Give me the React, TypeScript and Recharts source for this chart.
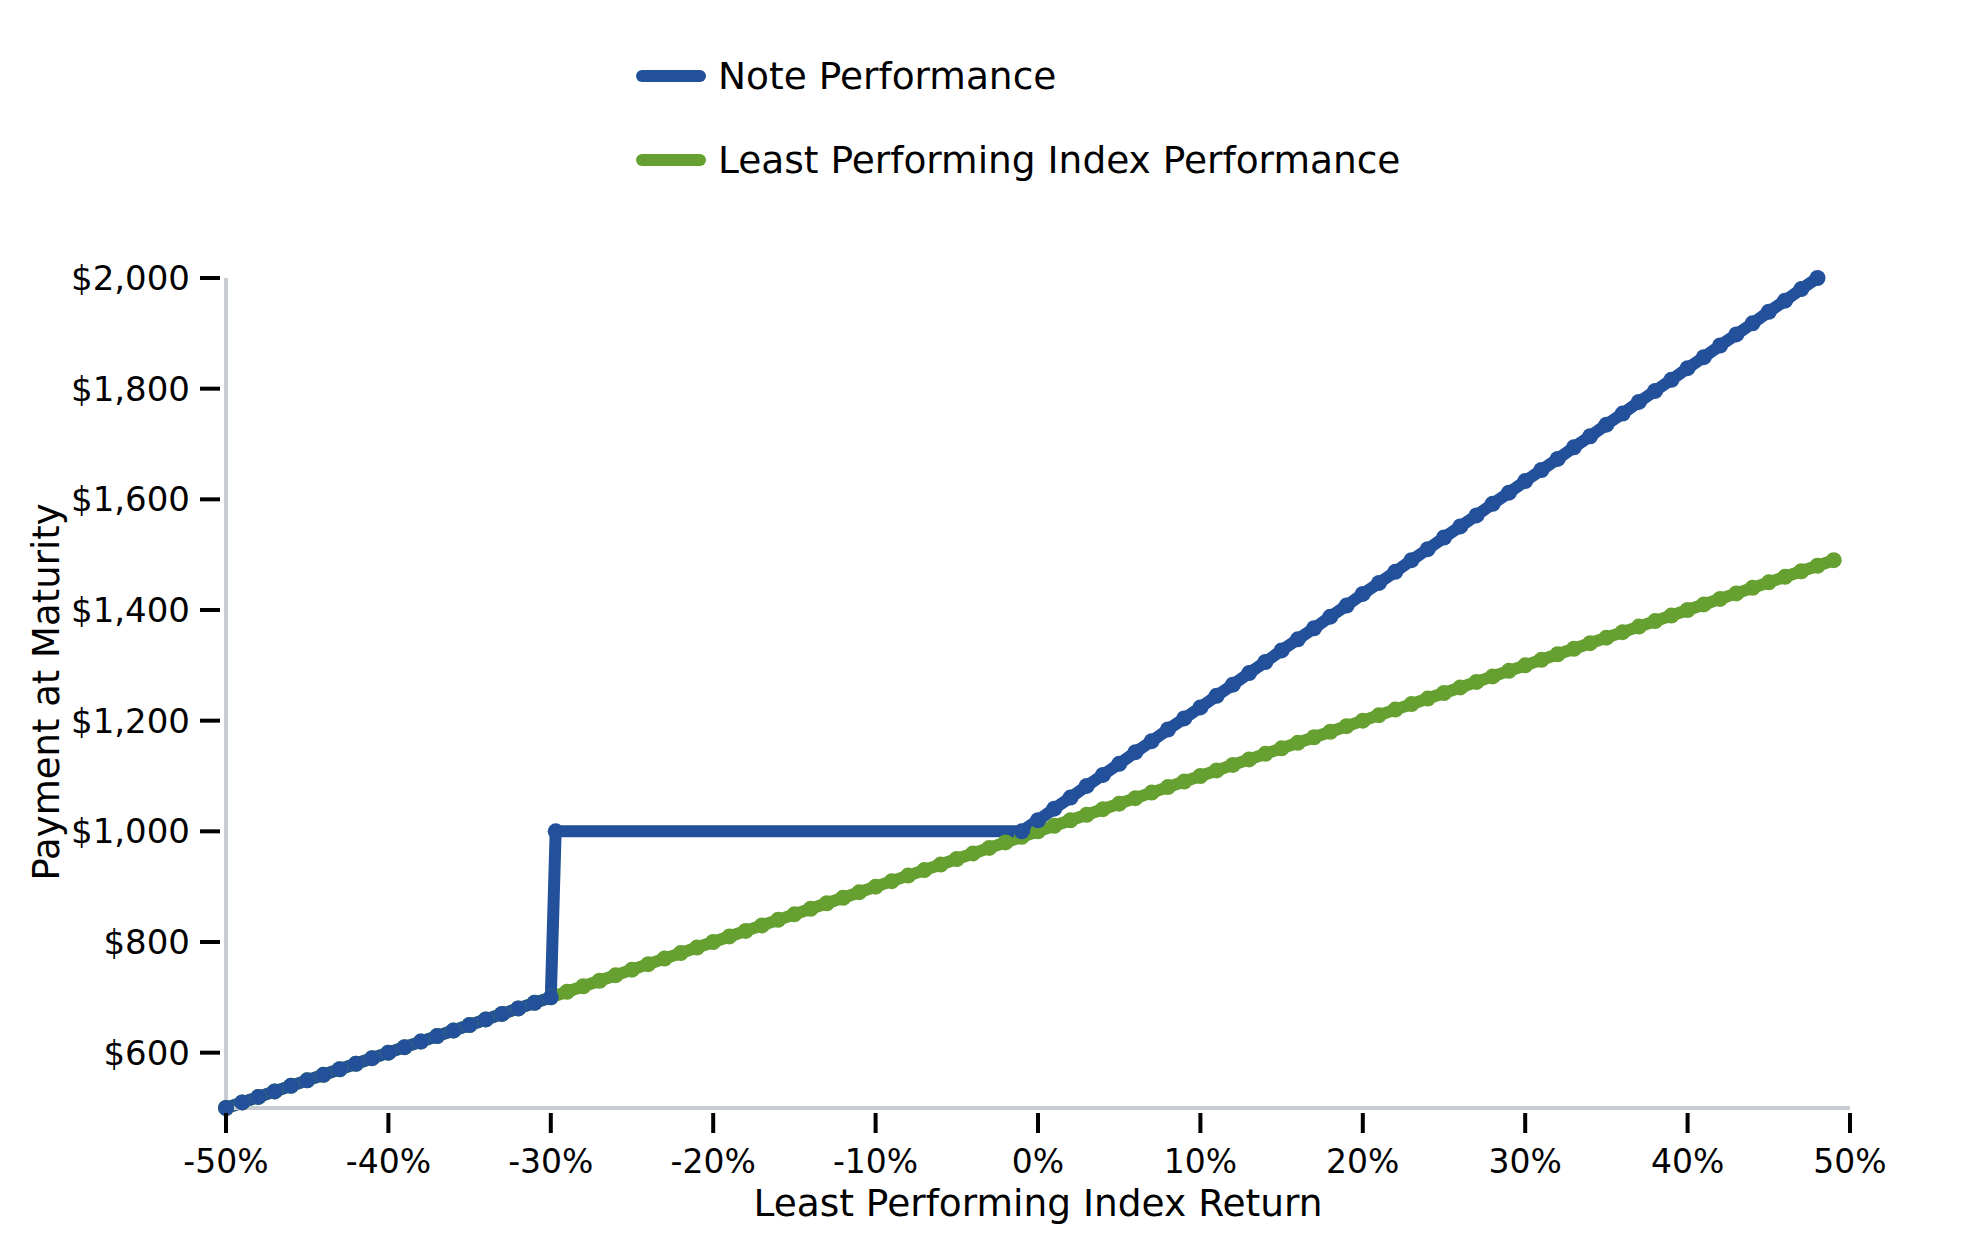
import React from "react";
import { LineChart, Line, XAxis, YAxis } from "recharts";

// Least performing index return (%) and payment at maturity ($)
const indexReturns = [
  -50, -49, -48, -47, -46, -45, -44, -43, -42, -41, -40, -39, -38, -37, -36, -35, -34, -33, -32, -31,
  -30, -29, -28, -27, -26, -25, -24, -23, -22, -21, -20, -19, -18, -17, -16, -15, -14, -13, -12, -11,
  -10, -9, -8, -7, -6, -5, -4, -3, -2, -1, 0, 1, 2, 3, 4, 5, 6, 7, 8, 9,
  10, 11, 12, 13, 14, 15, 16, 17, 18, 19, 20, 21, 22, 23, 24, 25, 26, 27, 28, 29,
  30, 31, 32, 33, 34, 35, 36, 37, 38, 39, 40, 41, 42, 43, 44, 45, 46, 47, 48, 49,
];
const indexPayments = [
  500, 510, 520, 530, 540, 550, 560, 570, 580, 590, 600, 610, 620, 630, 640, 650, 660, 670, 680, 690,
  700, 710, 720, 730, 740, 750, 760, 770, 780, 790, 800, 810, 820, 830, 840, 850, 860, 870, 880, 890,
  900, 910, 920, 930, 940, 950, 960, 970, 980, 990, 1000, 1010, 1020, 1030, 1040, 1050, 1060, 1070, 1080, 1090,
  1100, 1110, 1120, 1130, 1140, 1150, 1160, 1170, 1180, 1190, 1200, 1210, 1220, 1230, 1240, 1250, 1260, 1270, 1280, 1290,
  1300, 1310, 1320, 1330, 1340, 1350, 1360, 1370, 1380, 1390, 1400, 1410, 1420, 1430, 1440, 1450, 1460, 1470, 1480, 1490,
];

const noteReturns = [
  -50, -49, -48, -47, -46, -45, -44, -43, -42, -41, -40, -39, -38, -37, -36, -35, -34, -33, -32, -31,
  -30, -29.7, -1, 0, 1, 2, 3, 4, 5, 6, 7, 8, 9,
  10, 11, 12, 13, 14, 15, 16, 17, 18, 19, 20, 21, 22, 23, 24, 25, 26, 27, 28, 29,
  30, 31, 32, 33, 34, 35, 36, 37, 38, 39, 40, 41, 42, 43, 44, 45, 46, 47, 48,
];
const notePayments = [
  500, 510, 520, 530, 540, 550, 560, 570, 580, 590, 600, 610, 620, 630, 640, 650, 660, 670, 680, 690,
  700, 1000, 1000, 1020, 1041, 1061, 1082, 1102, 1122, 1143, 1163, 1184, 1204,
  1224, 1245, 1265, 1286, 1306, 1327, 1347, 1367, 1388, 1408, 1429, 1449, 1469, 1490, 1510, 1531, 1551, 1571, 1592, 1612,
  1633, 1653, 1673, 1694, 1714, 1735, 1755, 1776, 1796, 1816, 1837, 1857, 1878, 1898, 1918, 1939, 1959, 1980, 2000,
];

const xTicks = [-50, -40, -30, -20, -10, 0, 10, 20, 30, 40, 50];
const yTicks = [600, 800, 1000, 1200, 1400, 1600, 1800, 2000];

const BLUE = "#22509a";
const GREEN = "#65a030";
const AXIS_GRAY = "#c9cdd1";
const FONT = "'DejaVu Sans', sans-serif";

const indexData = indexReturns.map((r, i) => ({ r, v: indexPayments[i] }));
const noteData = noteReturns.map((r, i) => ({ r, v: notePayments[i] }));

const money = (v: number) => "$" + v.toLocaleString("en-US");

function XTick({ x, y, payload }: any) {
  return (
    <g>
      <line x1={x} x2={x} y1={y + 5} y2={y + 25} stroke="#000" strokeWidth={4} />
      <text x={x} y={y + 65} textAnchor="middle" fontSize={33} fontFamily={FONT} fill="#000">
        {payload.value}%
      </text>
    </g>
  );
}

function YTick({ x, y, payload }: any) {
  return (
    <g>
      <line x1={x - 6} x2={x - 26} y1={y} y2={y} stroke="#000" strokeWidth={4} />
      <text x={x - 36} y={y + 12} textAnchor="end" fontSize={34} fontFamily={FONT} fill="#000">
        {money(payload.value)}
      </text>
    </g>
  );
}

function LegendBox() {
  const items = [
    { label: "Note Performance", color: BLUE },
    { label: "Least Performing Index Performance", color: GREEN },
  ];
  return (
    <div
      style={{
        position: "absolute",
        top: 34,
        left: 636,
        fontFamily: FONT,
        fontSize: 37.5,
        color: "#000",
      }}
    >
      {items.map((it) => (
        <div key={it.label} style={{ display: "flex", alignItems: "center", height: 84 }}>
          <svg width={70} height={14} style={{ marginRight: 12 }}>
            <line x1={6} x2={64} y1={7} y2={7} stroke={it.color} strokeWidth={12} strokeLinecap="round" />
          </svg>
          <span>{it.label}</span>
        </div>
      ))}
    </div>
  );
}

export default function App() {
  return (
    <div style={{ position: "absolute", left: 0, top: 0, width: 1979, height: 1250, background: "#fff" }}>
      <LineChart width={1979} height={1250} margin={{ top: 278, right: 129, bottom: 0, left: 0 }}>
        <XAxis
          type="number"
          dataKey="r"
          domain={[-50, 50]}
          ticks={xTicks}
          interval={0}
          height={142}
          tickSize={0}
          tickMargin={0}
          tickLine={false}
          axisLine={{ stroke: AXIS_GRAY, strokeWidth: 4 }}
          tick={<XTick />}
          label={{
            content: ({ viewBox }: any) => (
              <text
                x={viewBox.x + viewBox.width / 2}
                y={viewBox.y + 108}
                textAnchor="middle"
                fontSize={37.5}
                fontFamily={FONT}
                fill="#000"
              >
                Least Performing Index Return
              </text>
            ),
          }}
        />
        <YAxis
          type="number"
          dataKey="v"
          domain={[500, 2000]}
          ticks={yTicks}
          interval={0}
          width={226}
          tickSize={0}
          tickMargin={0}
          tickLine={false}
          axisLine={{ stroke: AXIS_GRAY, strokeWidth: 4 }}
          tick={<YTick />}
          label={{
            content: () => (
              <text
                x={59}
                y={692}
                transform="rotate(-90, 59, 692)"
                textAnchor="middle"
                fontSize={37}
                fontFamily={FONT}
                fill="#000"
              >
                Payment at Maturity
              </text>
            ),
          }}
        />
        <Line
          data={indexData}
          dataKey="v"
          type="linear"
          stroke={GREEN}
          strokeWidth={12}
          strokeLinejoin="round"
          dot={{ r: 8, fill: GREEN, stroke: "none", strokeWidth: 0 }}
          activeDot={false}
          isAnimationActive={false}
        />
        <Line
          data={noteData}
          dataKey="v"
          type="linear"
          stroke={BLUE}
          strokeWidth={12}
          strokeLinejoin="round"
          dot={{ r: 8, fill: BLUE, stroke: "none", strokeWidth: 0 }}
          activeDot={false}
          isAnimationActive={false}
        />
      </LineChart>
      <LegendBox />
    </div>
  );
}
